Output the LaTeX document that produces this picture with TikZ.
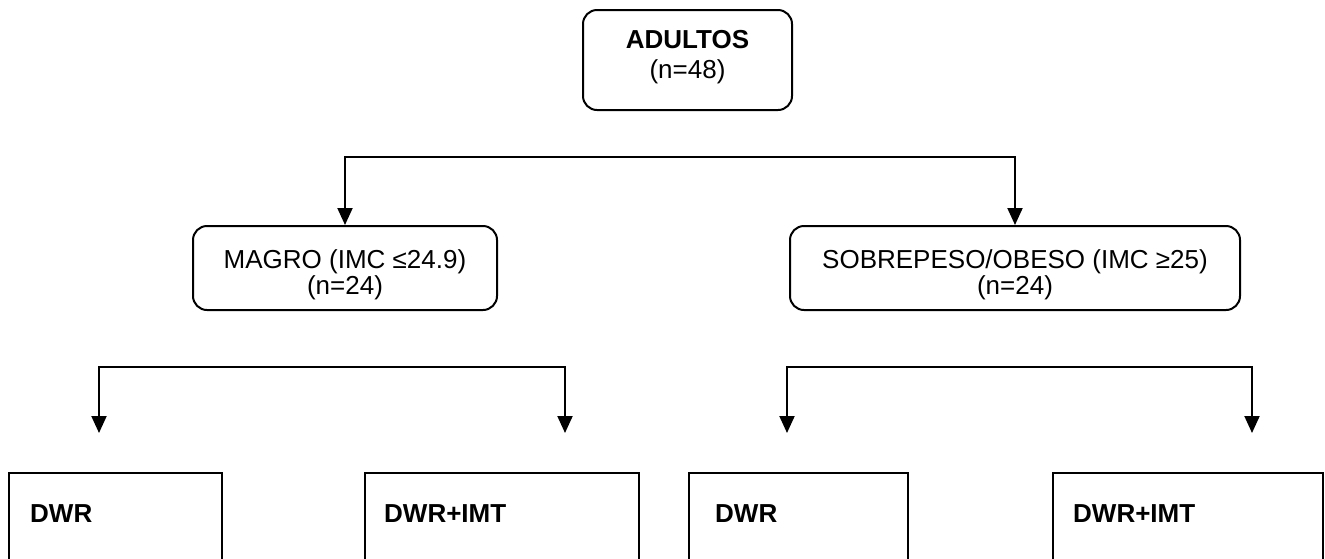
\documentclass[tikz,border=0pt]{standalone}
\usepackage{fontspec}
\setmainfont{Liberation Sans}
\usetikzlibrary{arrows.meta}
\begin{document}
\begin{tikzpicture}[x=1pt,y=-1pt,
  rbox/.style={draw, line width=2pt, rounded corners=14pt, inner sep=0pt},
  sbox/.style={draw, line width=2pt, inner sep=0pt},
  txt/.style={font=\fontsize{26}{30}\selectfont, inner sep=0pt},
  btxt/.style={font=\fontsize{26}{30}\selectfont\bfseries, inner sep=0pt},
  arr/.style={line width=2pt, -{Triangle[length=17pt,width=15pt]}}]
\useasboundingbox (0,0) rectangle (1325,558);
\clip (0,0) rectangle (1325,558);
% top
\node[rbox, minimum width=209pt, minimum height=100pt] (adultos) at (687.5,60) {};
\node[btxt, anchor=base] (adultosA) at (687.5,48) {ADULTOS};
\node[txt, anchor=base] (adultosB) at (687.5,78) {(n=48)};
% middle
\node[rbox, minimum width=304pt, minimum height=84pt] (magro) at (345,268) {};
\node[txt, anchor=base] (magroA) at (345,268) {MAGRO (IMC ≤24.9)};
\node[txt, anchor=base] (magroB) at (345,294) {(n=24)};
\node[rbox, minimum width=450pt, minimum height=84pt] (sobre) at (1015,268) {};
\node[txt, anchor=base] (sobreA) at (1015,268) {SOBREPESO/OBESO (IMC ≥25)};
\node[txt, anchor=base] (sobreB) at (1015,294) {(n=24)};
% bottom
\node[sbox, anchor=north west, minimum width=213pt, minimum height=150pt] (b1) at (8,472) {};
\node[sbox, anchor=north west, minimum width=274pt, minimum height=150pt] (b2) at (364,472) {};
\node[sbox, anchor=north west, minimum width=219pt, minimum height=150pt] (b3) at (688,472) {};
\node[sbox, anchor=north west, minimum width=270pt, minimum height=150pt] (b4) at (1052,472) {};
\node[btxt, anchor=base west] (b1t) at (30,522) {DWR};
\node[btxt, anchor=base west] (b2t) at (384,522) {DWR+IMT};
\node[btxt, anchor=base west] (b3t) at (715,522) {DWR};
\node[btxt, anchor=base west] (b4t) at (1073,522) {DWR+IMT};
% connectors
\coordinate (h1) at (680,157);
\draw[arr] (h1) -| (magro.north);
\draw[arr] (h1) -| (sobre.north);
\coordinate (h2) at (330,367);
\coordinate (a1) at (99,433);
\coordinate (a2) at (565,433);
\draw[arr] (h2) -| (a1);
\draw[arr] (h2) -| (a2);
\coordinate (h3) at (1020,367);
\coordinate (a3) at (787,433);
\coordinate (a4) at (1252,433);
\draw[arr] (h3) -| (a3);
\draw[arr] (h3) -| (a4);
\end{tikzpicture}
\end{document}
